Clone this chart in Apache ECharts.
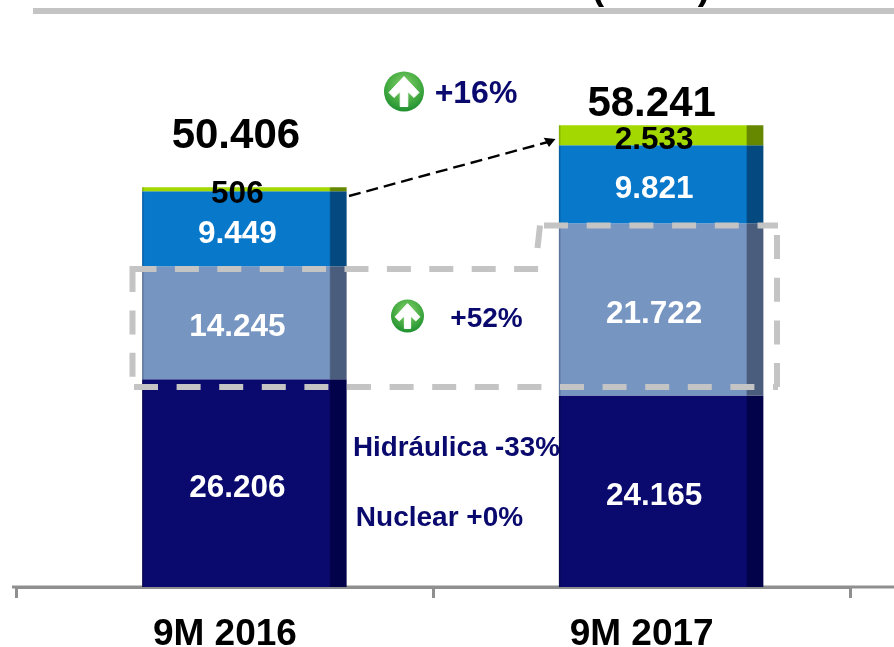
<!DOCTYPE html>
<html>
<head>
<meta charset="utf-8">
<style>html,body{margin:0;padding:0;background:#fff}#c{width:894px;height:647px}</style>
<script src="https://cdn.jsdelivr.net/npm/echarts@6/dist/echarts.min.js"></script>
</head>
<body>
<div id="c"></div>
<script>
const categories = ['9M 2016', '9M 2017'];
const nuclearHydro = [26206, 24165];
const thermal = [14245, 21722];
const wind = [9449, 9821];
const solar = [506, 2533];
const totals = [50406, 58241];
const totalOffsets = [[11, -51], [10, -21]];

const FONT = '"Liberation Sans", Arial, sans-serif';
const NAVY = '#0a0a6e';
const GREY = '#c4c4c4';

function fmt(v) { return String(v).replace(/\B(?=(\d{3})+$)/g, '.'); }
function band(edge, base, dark) {
  return { type: 'linear', x: 0, y: 0, x2: 1, y2: 0, colorStops: [
    { offset: 0, color: edge }, { offset: 0.012, color: base },
    { offset: 0.915, color: base }, { offset: 0.922, color: dark }, { offset: 1, color: dark } ] };
}
function seg(name, data, fill, labelColor) {
  return { name, type: 'bar', stack: 'gen', data, barWidth: 204.5,
    itemStyle: { color: fill }, z: 2,
    label: { show: true, position: 'inside', offset: [-7, 5], color: labelColor,
      fontFamily: FONT, fontWeight: 'bold', fontSize: 31.5, textBorderWidth: 0,
      formatter: p => fmt(p.value) } };
}
function icon(cx, cy, r) {
  const k = r / 20;
  return [
    { type: 'circle', z: 20, shape: { cx, cy, r },
      style: { fill: { type: 'radial', x: 0.5, y: 0.35, r: 0.7, colorStops: [
        { offset: 0, color: '#86d16c' }, { offset: 0.55, color: '#4aae45' }, { offset: 1, color: '#178a2c' } ] } } },
    { type: 'polygon', z: 21, shape: { points: [
      [0, -15], [15, 1], [10, 6], [3.8, 0], [3.8, 15], [-3.8, 15], [-3.8, 0], [-10, 6], [-15, 1]
    ].map(p => [cx + p[0] * k, cy + p[1] * k]) }, style: { fill: '#fff', stroke: '#fff', lineWidth: 1, lineJoin: 'round' } }
  ];
}
function text(str, x, y, size, color) {
  return { type: 'text', z: 22, style: { text: str, x, y, fill: color, align: 'center', verticalAlign: 'middle',
    font: 'bold ' + size + 'px ' + FONT } };
}
function dashed(points, dash) {
  return { type: 'polyline', z: 10, shape: { points },
    style: { stroke: GREY, fill: null, lineWidth: 6, lineDash: dash } };
}

const chart = echarts.init(document.getElementById('c'), null, { renderer: 'canvas' });
chart.setOption({
  animation: false,
  backgroundColor: '#fff',
  grid: { left: 16.5, right: 44, top: 32, bottom: 60, outerBoundsMode: 'none' },
  xAxis: { type: 'category', data: categories,
    axisLine: { lineStyle: { color: '#8f8f8f', width: 3 } },
    axisTick: { show: true, length: 11, lineStyle: { color: '#8f8f8f', width: 3 } },
    axisLabel: { color: '#000', fontFamily: FONT, fontWeight: 'bold', fontSize: 37, margin: 29 } },
  yAxis: { type: 'value', min: 0, max: 70000, show: false },
  series: [
    { name: 'spacer', type: 'bar', barWidth: 39, barGap: 0, data: [null, null], silent: true },
    seg('Hidráulica + Nuclear', nuclearHydro, band('#05054a', NAVY, '#02024a'), '#fff'),
    seg('Térmica', thermal, band('#52688c', '#7795c1', '#4a5d7c'), '#fff'),
    seg('Eólica', wind, band('#06589a', '#0878cb', '#044a80'), '#fff'),
    seg('Otras', solar, band('#7ba300', '#a3d900', '#668800'), '#000'),
    { name: 'Total', type: 'line', data: totals.map((v, i) => ({ value: v, label: { offset: totalOffsets[i] } })),
      symbol: 'circle', symbolSize: 1, itemStyle: { color: 'transparent' }, lineStyle: { width: 0, opacity: 0 }, z: 5,
      label: { show: true, position: 'inside', color: '#000', fontFamily: FONT, fontWeight: 'bold', fontSize: 42,
        textBorderWidth: 0, formatter: p => fmt(p.value) } }
  ],
  graphic: [
    { type: 'rect', z: 1, shape: { x: 33, y: 8, width: 861, height: 6 }, style: { fill: GREY } },
    text('(', 598, -11, 37, '#000'),
    text(')', 704, -11, 37, '#000'),
    { type: 'line', z: 1, shape: { x1: 12, y1: 587, x2: 894, y2: 587 }, style: { stroke: '#8f8f8f', lineWidth: 3 } },
    dashed([[132.5, 269], [540, 269]], [24, 18.4]),
    dashed([[132.5, 266], [132.5, 386]], [26, 18.4, 24, 18.4, 24, 18.4]),
    dashed([[537.5, 248], [540, 225.5]], []),
    dashed([[544, 225.5], [778, 225.5]], [24, 18.7]),
    dashed([[777, 235], [777, 387]], [24, 18.7]),
    dashed([[134, 387], [778, 387]], [24, 18.6]),
    { type: 'polyline', z: 10, shape: { points: [[349, 196], [548, 142]] },
      style: { stroke: '#000', fill: null, lineWidth: 2.4, lineDash: [12, 6] } },
    { type: 'polygon', z: 10, shape: { points: [[543.7, 137.7], [555.5, 139], [549, 147]] }, style: { fill: '#000' } },
    ...icon(404, 91.5, 20),
    ...icon(407.5, 316, 16.5),
    text('+16%', 476, 94, 32, NAVY),
    text('+52%', 486.5, 319, 28, NAVY),
    text('Hidráulica -33%', 456.5, 448, 27.8, NAVY),
    text('Nuclear +0%', 439.5, 518, 28, NAVY)
  ]
});
</script>
</body>
</html>
